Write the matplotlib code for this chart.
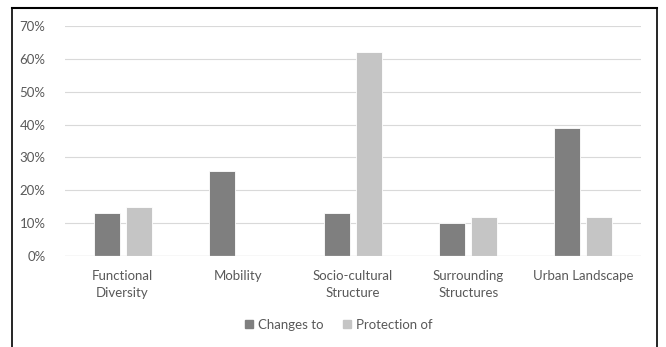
import matplotlib
matplotlib.use("Agg")
import matplotlib.pyplot as plt
from matplotlib.lines import Line2D
from matplotlib.ticker import PercentFormatter
import numpy as np

categories = ["Functional\nDiversity", "Mobility", "Socio-cultural\nStructure",
              "Surrounding\nStructures", "Urban Landscape"]
changes_to = [0.13, 0.26, 0.13, 0.10, 0.39]
protection_of = [0.15, 0.0, 0.62, 0.12, 0.12]
y_ticks = [0, 0.1, 0.2, 0.3, 0.4, 0.5, 0.6, 0.7]

DARK = "#7f7f7f"
LIGHT = "#c5c5c5"
TEXT = "#595959"

plt.rcParams["font.family"] = ["Lato", "DejaVu Sans"]

fig = plt.figure(figsize=(6.66, 3.47), dpi=100)
ax = fig.add_axes([65 / 666, 1 - 256 / 347, 576 / 666, 230 / 347])

x = np.arange(len(categories))
width = 0.226
off = 0.139
ax.bar(x - off, changes_to, width, color=DARK, edgecolor="white", linewidth=0.6, zorder=3)
ax.bar(x + off, protection_of, width, color=LIGHT, edgecolor="white", linewidth=0.6, zorder=3)

ax.set_xlim(-0.5, len(categories) - 0.5)
ax.set_ylim(0, 0.7)
ax.set_yticks(y_ticks)
ax.yaxis.set_major_formatter(PercentFormatter(1.0, decimals=0))
ax.set_xticks(x)
ax.set_xticklabels(categories, linespacing=1.5)
ax.tick_params(axis="both", length=0, colors=TEXT, labelsize=9.5)
ax.tick_params(axis="x", pad=10)
ax.tick_params(axis="y", pad=14)
ax.grid(axis="y", color="#d9d9d9", linewidth=0.8, zorder=0)
for s in ax.spines.values():
    s.set_visible(False)
ax.axhline(0, color="#d9d9d9", linewidth=0.9, zorder=4)

handles = [Line2D([], [], marker="s", linestyle="none", color=DARK, markersize=6),
           Line2D([], [], marker="s", linestyle="none", color=LIGHT, markersize=6)]
fig.legend(handles, ["Changes to", "Protection of"], loc="center",
           bbox_to_anchor=(338 / 666, 1 - 325 / 347), ncol=2, frameon=False,
           fontsize=9.5, labelcolor=TEXT, handlelength=0.8, handletextpad=0.3,
           columnspacing=1.4)

# outer chart frame (bottom edge runs off the image)
fx0, fx1, fy1 = 12 / 666, 657 / 666, 1 - 8 / 347
fig.add_artist(Line2D([fx0, fx0], [-0.1, fy1], color="black", linewidth=1.2, transform=fig.transFigure))
fig.add_artist(Line2D([fx1, fx1], [-0.1, fy1], color="black", linewidth=1.2, transform=fig.transFigure))
fig.add_artist(Line2D([fx0, fx1], [fy1, fy1], color="black", linewidth=1.5, transform=fig.transFigure))

fig.savefig("out.png", dpi=100)
